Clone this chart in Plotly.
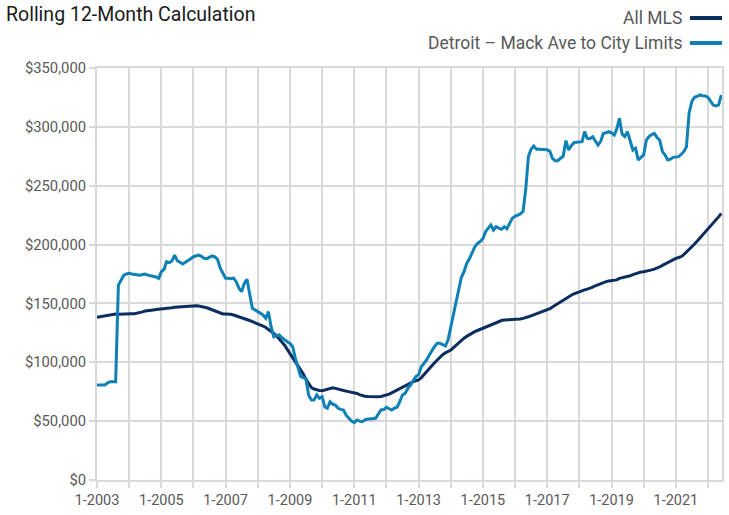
import plotly.graph_objects as go
import pandas as pd

# Monthly values, 2003-01 .. 2022-06 (in $ thousands)
all_mls = [
    138.2, 138.6, 139.0, 139.5, 140.0, 140.5, 141.0, 141.0, 140.8, 141.0, 141.2, 141.0,
    141.0, 141.2, 141.3, 141.6, 142.0, 142.8, 143.5, 144.0, 144.3, 144.5, 144.8, 145.0,
    145.0, 145.5, 145.8, 146.0, 146.3, 146.8, 147.0, 147.2, 147.5, 147.8, 148.0, 148.0,
    148.0, 148.0, 147.8, 147.5, 147.0, 146.3, 145.5, 144.5, 143.5, 142.5, 141.5, 141.0,
    141.0, 141.0, 140.8, 140.2, 139.5, 138.8, 138.0, 137.2, 136.5, 135.5, 134.5, 133.6,
    133.0, 132.0, 130.8, 129.5, 128.0, 126.3, 124.5, 122.5, 120.0, 117.5, 114.5, 111.0,
    107.6, 104.0, 100.5, 97.5, 94.0, 90.0, 85.5, 81.5, 78.5, 77.3, 76.5, 76.0,
    75.9, 76.5, 77.5, 78.2, 78.4, 77.8, 77.0, 76.5, 76.0, 75.5, 75.0, 74.5,
    74.2, 73.5, 72.5, 71.6, 71.2, 71.0, 70.8, 70.8, 70.8, 70.8, 71.0, 71.5,
    72.2, 73.0, 74.0, 75.2, 76.5, 77.5, 78.8, 80.0, 81.5, 82.5, 83.5, 84.3,
    85.0, 87.0, 89.5, 92.0, 94.5, 97.0, 99.5, 102.0, 104.8, 106.5, 108.0, 109.3,
    110.4, 112.5, 114.5, 117.0, 118.9, 120.5, 122.0, 123.5, 125.0, 126.0, 127.0, 128.0,
    128.9, 129.5, 130.5, 131.7, 132.5, 133.5, 134.5, 135.5, 135.9, 136.0, 136.0, 136.3,
    136.0, 136.3, 136.8, 137.3, 137.8, 138.7, 139.5, 140.3, 141.2, 142.0, 142.8, 143.6,
    144.4, 145.5, 147.0, 148.5, 150.0, 151.5, 153.0, 154.5, 155.7, 157.0, 158.2, 159.2,
    160.0, 160.8, 161.5, 162.2, 162.8, 163.8, 165.0, 166.0, 167.0, 167.8, 168.5, 169.0,
    169.3, 169.7, 170.0, 171.3, 171.8, 172.3, 172.7, 173.5, 174.5, 175.3, 176.2, 176.7,
    177.0, 177.3, 177.8, 178.5, 179.2, 179.8, 181.0, 182.3, 183.5, 185.0, 186.0, 187.2,
    188.3, 189.0, 189.7, 191.5, 193.5, 195.8, 198.0, 200.5, 203.0, 205.5, 208.0, 211.0,
    213.0, 215.5, 218.0, 220.5, 223.5, 226.5,
]

detroit = [
    80.7, 80.7, 80.7, 80.7, 82.5, 83.5, 83.5, 83.5, 165.6, 170.0, 174.0, 175.0,
    175.6, 175.0, 174.5, 174.0, 174.0, 174.5, 175.0, 174.0, 173.6, 173.0, 172.5, 171.3,
    177.0, 179.0, 185.5, 184.6, 186.0, 191.0, 186.3, 185.0, 183.5, 185.0, 186.3, 188.0,
    189.7, 190.3, 191.0, 190.0, 188.3, 188.0, 189.0, 190.3, 189.5, 187.5, 180.0, 175.6,
    171.3, 171.3, 171.0, 171.5, 168.5, 163.0, 160.0, 167.0, 170.5, 158.0, 145.8, 144.5,
    143.0, 141.5, 140.2, 137.4, 143.0, 130.0, 121.7, 122.5, 123.2, 121.0, 118.9, 117.5,
    116.0, 113.2, 104.0, 96.0, 88.0, 87.0, 86.0, 72.0, 68.0, 68.0, 72.2, 69.4,
    70.8, 62.0, 61.0, 66.5, 64.5, 63.7, 60.9, 60.0, 59.5, 55.0, 52.4, 50.0,
    48.7, 51.0, 50.0, 49.5, 51.0, 51.8, 51.8, 52.0, 52.4, 56.0, 59.5, 59.8,
    61.8, 60.5, 59.5, 61.0, 61.8, 66.5, 72.2, 73.6, 78.0, 80.7, 84.0, 87.8,
    89.5, 96.3, 99.0, 101.9, 106.0, 110.4, 113.5, 116.1, 116.1, 115.0, 113.8, 118.9,
    130.0, 141.6, 150.0, 162.0, 172.0, 177.0, 184.0, 188.0, 193.0, 198.0, 201.0, 202.5,
    205.0, 211.0, 213.8, 216.6, 212.4, 215.2, 214.0, 213.0, 215.2, 213.5, 218.0, 222.3,
    224.0, 225.1, 226.0, 228.0, 246.4, 274.7, 280.9, 283.7, 281.0, 281.0, 281.0, 281.0,
    280.5, 279.0, 273.3, 271.3, 271.3, 273.3, 275.0, 288.3, 280.3, 284.0, 286.6, 287.0,
    287.0, 287.4, 295.9, 290.3, 290.0, 291.7, 288.0, 284.6, 288.0, 294.5, 295.0, 295.9,
    295.0, 293.1, 298.0, 307.3, 294.0, 291.7, 295.9, 288.0, 280.3, 281.8, 271.8, 274.0,
    276.1, 288.8, 291.7, 293.5, 294.5, 291.0, 288.8, 278.9, 276.1, 271.8, 272.5, 274.1,
    274.3, 274.7, 276.5, 278.9, 283.1, 312.0, 321.5, 325.1, 326.0, 327.1, 326.5, 326.2,
    325.0, 321.4, 318.5, 317.7, 318.6, 327.1,
]

start_month = "2003-01-01"
tick_years = list(range(2003, 2023))
tick_labels = [f"1-{y}" if (y - 2003) % 2 == 0 and y <= 2021 else "" for y in tick_years]
y_ticks = [0, 50000, 100000, 150000, 200000, 250000, 300000, 350000]
y_tick_labels = ["$0", "$50,000", "$100,000", "$150,000", "$200,000", "$250,000", "$300,000", "$350,000"]

series_names = ["All MLS", "Detroit \u2013 Mack Ave to City Limits"]
colors = ["#0b2d5f", "#0f80b6"]

dates = pd.date_range(start_month, periods=len(all_mls), freq="MS")

FONT = "Roboto, Liberation Sans, sans-serif"
GRID = "#d9d9d9"
L, R, T, B = 97, 7, 68, 35
PW, PH = 729 - L - R, 515 - T - B

fig = go.Figure()
for name, vals, col in zip(series_names, [all_mls, detroit], colors):
    fig.add_trace(go.Scatter(x=dates, y=[v * 1000 for v in vals], mode="lines", name=name,
                             line=dict(color=col, width=3), showlegend=False))

fig.update_layout(
    width=729, height=515,
    margin=dict(l=L, r=R, t=T, b=B),
    paper_bgcolor="white", plot_bgcolor="white",
    font=dict(family=FONT, size=14.5, color="#595959"),
    showlegend=False,
)
fig.update_xaxes(
    range=[dates[0], dates[-1] + pd.Timedelta(days=8)],
    tickvals=[pd.Timestamp(f"{y}-01-01") for y in tick_years],
    ticktext=tick_labels,
    showgrid=True, gridcolor=GRID, gridwidth=2,
    showline=True, linecolor=GRID, linewidth=2, mirror=True,
    ticks="outside", ticklen=6, tickcolor=GRID, tickwidth=2,
    tickfont=dict(size=14.5, color="#595959"),
    zeroline=False, automargin=False,
)
fig.update_yaxes(
    range=[0, 350000],
    tickvals=y_ticks, ticktext=y_tick_labels,
    showgrid=True, gridcolor=GRID, gridwidth=2,
    showline=True, linecolor=GRID, linewidth=2, mirror=True,
    ticks="outside", ticklen=6, tickcolor=GRID, tickwidth=2,
    tickfont=dict(size=14.8, color="#595959"),
    zeroline=False, automargin=False,
)

# Title
fig.add_annotation(text="Rolling 12-Month Calculation", xref="paper", yref="paper",
                   x=-(L - 4) / PW, y=1 + (T - 1) / PH, xanchor="left", yanchor="top",
                   showarrow=False, font=dict(family=FONT, size=19.5, color="#1a1a1a"))

# Custom legend (text on left, swatch on right)
legend_y_px = [18, 43]
for name, col, ypx in zip(series_names, colors, legend_y_px):
    yp = 1 + (T - ypx) / PH
    fig.add_annotation(text=name, xref="paper", yref="paper", x=(684 - L) / PW, y=yp,
                       xanchor="right", yanchor="middle", showarrow=False,
                       font=dict(family=FONT, size=17.5, color="#595959"))
    fig.add_shape(type="line", xref="paper", yref="paper",
                  x0=(690 - L) / PW, x1=(722 - L) / PW, y0=yp, y1=yp,
                  line=dict(color=col, width=4))

fig.write_html("out.html", config={"displayModeBar": False},
               post_script="document.body.style.margin='0px';")
